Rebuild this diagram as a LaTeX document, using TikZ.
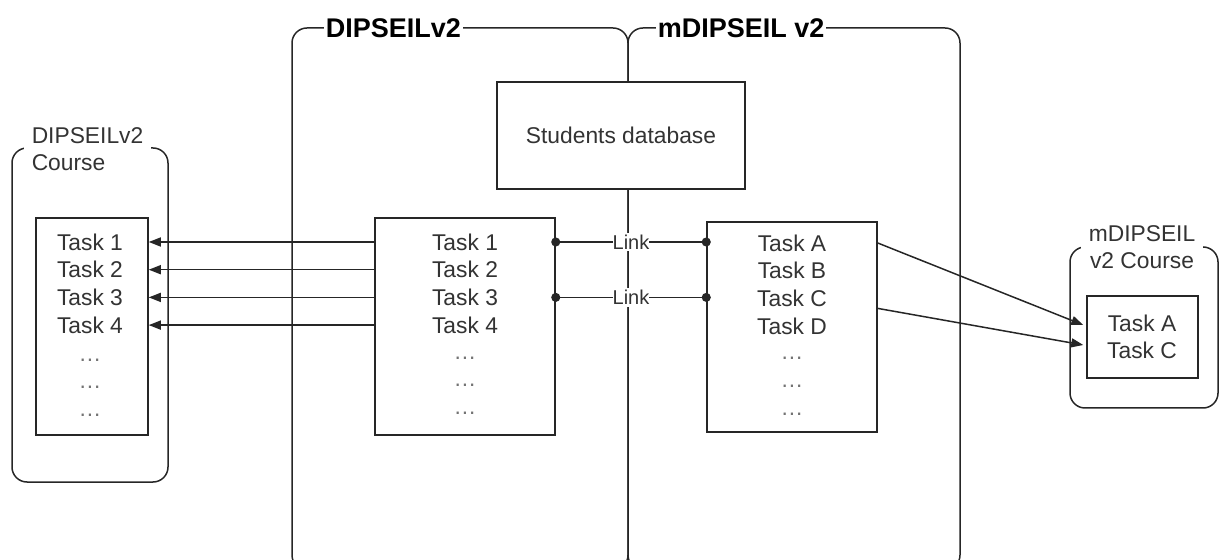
\documentclass[tikz,border=0pt]{standalone}
\usepackage{fontspec}
\setmainfont{Liberation Sans}
\usetikzlibrary{arrows.meta, calc, positioning}

\begin{document}
\begin{tikzpicture}[x=0.5pt, y=-0.5pt, line width=0.75pt,
    every node/.style={font=\fontsize{11.4pt}{13.75pt}\selectfont, text=black!80},
    container/.style={draw=black!85, rounded corners=7.5pt},
    taskbox/.style={draw=black!85, fill=white, rectangle, inner sep=0pt},
    tasktext/.style={inner sep=0pt},
    dotstext/.style={inner sep=0pt, text=black!55},
    boxtitle/.style={fill=white, inner xsep=1pt, inner ysep=1pt,
        font=\fontsize{13.5pt}{16pt}\selectfont\bfseries, text=black},
    coursetitle/.style={fill=white, inner xsep=4pt, inner ysep=0pt},
    copyarrow/.style={draw=black!85, -{Triangle[length=6pt, width=4.5pt]}},
    linkline/.style={draw=black!85, {Circle[length=4.5pt]}-{Circle[length=4.5pt]},
        shorten <=-2.25pt, shorten >=-2.25pt},
    linklabel/.style={fill=white, inner xsep=0pt, inner ysep=1pt,
        font=\fontsize{10pt}{11pt}\selectfont}
  ]
    \useasboundingbox (0,0) rectangle (1219,560);

    % Containers
    \draw[container] (12,148) rectangle (168,482);
    \draw[container] (292,28) rectangle (628,570);
    \draw[container] (628,28) rectangle (960,570);
    \draw[container] (1070,247) rectangle (1218,408);

    \node[boxtitle, anchor=west] (dtitle) at (323,28) {DIPSEILv2};
    \node[boxtitle, anchor=west] (mtitle) at (655,28) {mDIPSEIL v2};
    \node[coursetitle, anchor=west, align=left] (ltitle) at (23,149) {DIPSEILv2\\Course};
    \node[coursetitle, align=center] (rtitle) at (1142,247) {mDIPSEIL\\v2 Course};

    % Database and task boxes
    \node[taskbox, minimum width=124pt, minimum height=53.5pt] (db) at (621,135.5) {};
    \node (dbtext) at (db) {Students database};
    \node[taskbox, minimum width=56pt, minimum height=108.5pt] (ctasks) at (92,326.5) {};
    \node[taskbox, minimum width=90pt, minimum height=108.5pt] (dtasks) at (465,326.5) {};
    \node[taskbox, minimum width=85pt, minimum height=105pt] (mtasks) at (792,327) {};
    \node[taskbox, minimum width=55.5pt, minimum height=41pt] (rtasks) at (1142.5,337) {};

    % Task lines
    \foreach \t [count=\i] in {1,2,3,4} {
        \node[tasktext] (ct\i) at (90,{242+27.7*(\i-1)}) {Task \t};
        \node[tasktext] (dt\i) at (465,{242+27.7*(\i-1)}) {Task \t};
    }
    \foreach \t [count=\i] in {A,B,C,D}
        \node[tasktext] (mt\i) at (792,{243+27.7*(\i-1)}) {Task \t};
    \foreach \i in {1,2,3} {
        \node[dotstext] (cd\i) at (90,{360+27.5*(\i-1)}) {\ldots};
        \node[dotstext] (dd\i) at (465,{358+27.5*(\i-1)}) {\ldots};
        \node[dotstext] (md\i) at (792,{358+28*(\i-1)}) {\ldots};
    }
    \node[tasktext] (ra) at (1142,323) {Task A};
    \node[tasktext] (rc) at (1142,350) {Task C};

    % Copies into the DIPSEILv2 course
    \foreach \i in {1,...,4}
        \draw[copyarrow] (dtasks.west |- dt\i) -- (ctasks.east |- dt\i);

    % Links between the two systems
    \draw[linkline] (dtasks.east |- dt1) -- node[linklabel] (link1) {Link} (mtasks.west |- dt1);
    \draw[linkline] (dtasks.east |- dt3) -- node[linklabel] (link2) {Link} (mtasks.west |- dt3);

    % Copies into the mDIPSEIL v2 course
    \draw[copyarrow] (mtasks.east |- mt1) -- ($(rtasks.west |- ra)+(-3,2)$);
    \draw[copyarrow] ($(mtasks.east |- mt3)+(0,10)$) -- ($(rtasks.west |- rc)+(-3,-5)$);
\end{tikzpicture}
\end{document}
